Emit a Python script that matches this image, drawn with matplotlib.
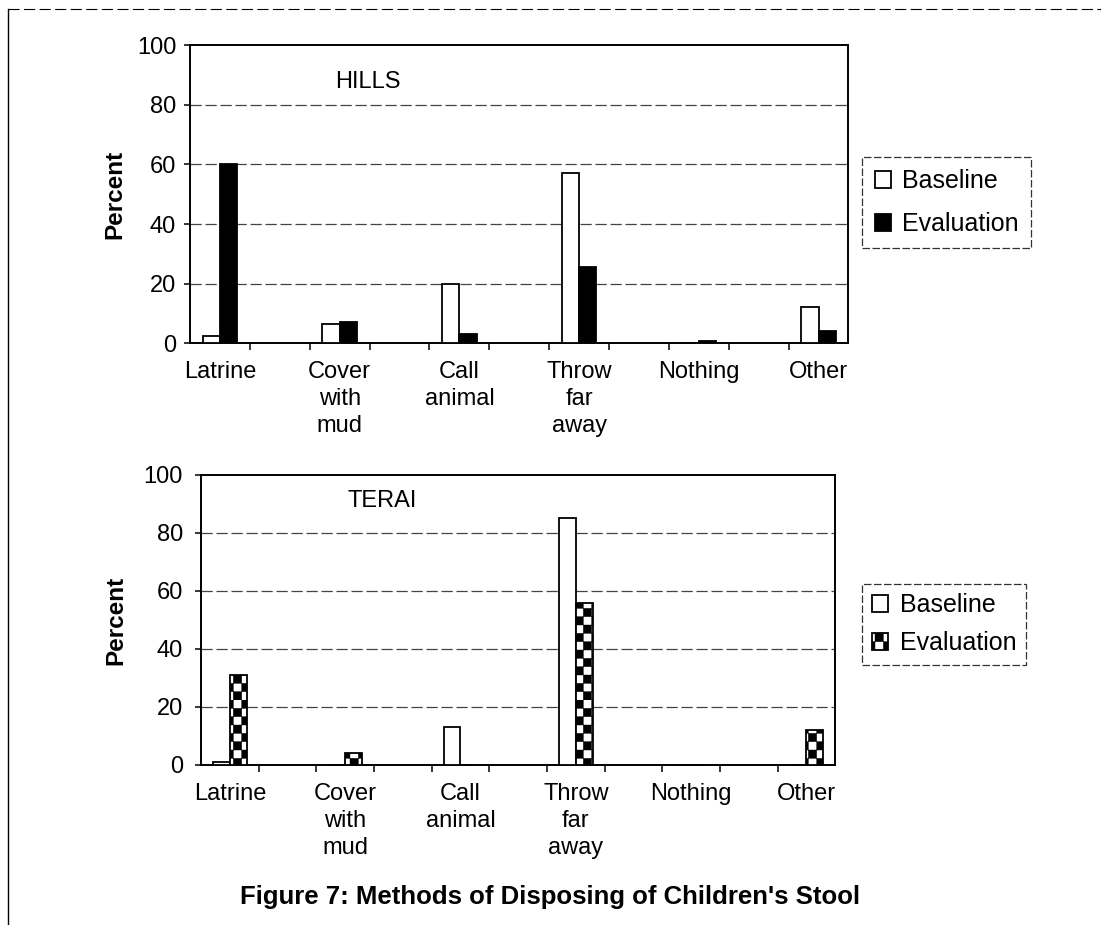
import numpy as np
import matplotlib.pyplot as plt
from matplotlib import hatch as mhatch
from matplotlib.path import Path
from matplotlib.patches import Patch
from matplotlib.lines import Line2D

categories = ["Latrine", "Cover\nwith\nmud", "Call\nanimal", "Throw\nfar\naway", "Nothing", "Other"]
series_names = ["Baseline", "Evaluation"]

hills_baseline = [2.5, 6.5, 20, 57, 0, 12]
hills_evaluation = [60, 7, 3, 25.5, 0.6, 4]

terai_baseline = [1, 0, 13, 85, 0, 0]
terai_evaluation = [31, 4, 0, 56, 0, 12]

yticks = [0, 20, 40, 60, 80, 100]


# checkerboard hatch (Excel-style), bound to the 'O' hatch character
class CheckerHatch(mhatch.HatchPatternBase):
    def __init__(self, hatch, density):
        self.n = hatch.count("O") * 12
        self.num_vertices = (self.n * self.n // 2) * 5

    def set_vertices_and_codes(self, vertices, codes):
        s = 1.0 / self.n
        k = 0
        for i in range(self.n):
            for j in range(self.n):
                if (i + j) % 2:
                    continue
                x0, y0 = i * s, j * s
                vertices[k:k + 5] = [(x0, y0), (x0 + s, y0), (x0 + s, y0 + s), (x0, y0 + s), (x0, y0)]
                codes[k] = Path.MOVETO
                codes[k + 1:k + 4] = Path.LINETO
                codes[k + 4] = Path.CLOSEPOLY
                k += 5


mhatch._hatch_types = [CheckerHatch]

plt.rcParams["font.family"] = ["Liberation Sans", "DejaVu Sans"]
plt.rcParams["hatch.linewidth"] = 0.3

fig = plt.figure(figsize=(11.01, 9.25), dpi=100)
fig.patch.set_facecolor("white")


def draw_panel(ax, base, evalu, title, title_xy, eval_style, ylabel_x, ypad):
    x = np.arange(len(categories)) * 2
    w = 0.29
    ax.bar(x - w / 2, base, width=w, color="white", edgecolor="black", linewidth=1.3, zorder=3)
    ax.bar(x + w / 2, evalu, width=w, edgecolor="black", linewidth=1.3, zorder=3, **eval_style)
    ax.set_xlim(-0.5, x[-1] + 0.5)
    ax.set_ylim(0, 100)
    ax.set_yticks(yticks)
    ax.set_yticklabels([str(t) for t in yticks], fontsize=17)
    ax.set_xticks(x)
    ax.set_xticklabels(categories, fontsize=17, linespacing=1.3)
    ax.set_xticks(np.arange(0.5, x[-1], 1.0), minor=True)
    ax.tick_params(axis="x", which="major", length=0, pad=13)
    ax.tick_params(axis="x", which="minor", length=5, direction="out", width=1.1)
    ax.tick_params(axis="y", length=4, direction="out", pad=ypad, width=1.1)
    for t in yticks[1:-1]:
        ax.axhline(t, color="#444444", linewidth=0.9, linestyle=(0, (9, 3)), zorder=1)
    for spine in ax.spines.values():
        spine.set_linewidth(1.4)
        spine.set_color("black")
    ax.set_ylabel("Percent", fontsize=17.5, fontweight="bold")
    ax.yaxis.set_label_coords(ylabel_x, 0.5)
    ax.text(title_xy[0], title_xy[1], title, transform=ax.transAxes, fontsize=17, ha="center", va="center")


hills_style = {"color": "black"}
terai_style = {"color": "white", "hatch": "O"}

ax1 = fig.add_axes([0.1726, 0.629, 0.598, 0.322])
draw_panel(ax1, hills_baseline, hills_evaluation, "HILLS", (0.27, 0.876), hills_style, -0.096, 6)

ax2 = fig.add_axes([0.1826, 0.173, 0.576, 0.3135])
draw_panel(ax2, terai_baseline, terai_evaluation, "TERAI", (0.285, 0.91), terai_style, -0.116, 9)

handles1 = [Patch(facecolor="white", edgecolor="black", linewidth=1.3),
            Patch(facecolor="black", edgecolor="black", linewidth=1.3)]
handles2 = [Patch(facecolor="white", edgecolor="black", linewidth=1.3),
            Patch(facecolor="white", edgecolor="black", hatch="O", linewidth=1.3)]

for handles, anchor, lspace, bpad in [(handles1, (0.783, 0.781), 0.75, 0.5), (handles2, (0.783, 0.325), 0.55, 0.4)]:
    leg = fig.legend(handles, series_names, loc="center left", bbox_to_anchor=anchor,
                     fontsize=18, frameon=True, fancybox=False, handlelength=0.65, handleheight=0.65,
                     handletextpad=0.45, borderpad=bpad, labelspacing=lspace, borderaxespad=0)
    leg.get_frame().set_edgecolor("black")
    leg.get_frame().set_linewidth(0.9)
    leg.get_frame().set_linestyle((0, (6, 2)))

fig.text(0.5, 0.03, "Figure 7: Methods of Disposing of Children's Stool",
         ha="center", va="center", fontsize=18.5, fontweight="bold")

# page edge lines from the scan
fig.add_artist(Line2D([0.007, 0.007], [0.0, 0.99], transform=fig.transFigure, color="black", linewidth=1))
fig.add_artist(Line2D([0.007, 1.0], [0.99, 0.99], transform=fig.transFigure, color="black",
                      linewidth=0.8, linestyle=(0, (10, 4))))

fig.savefig("out.png", dpi=100)
